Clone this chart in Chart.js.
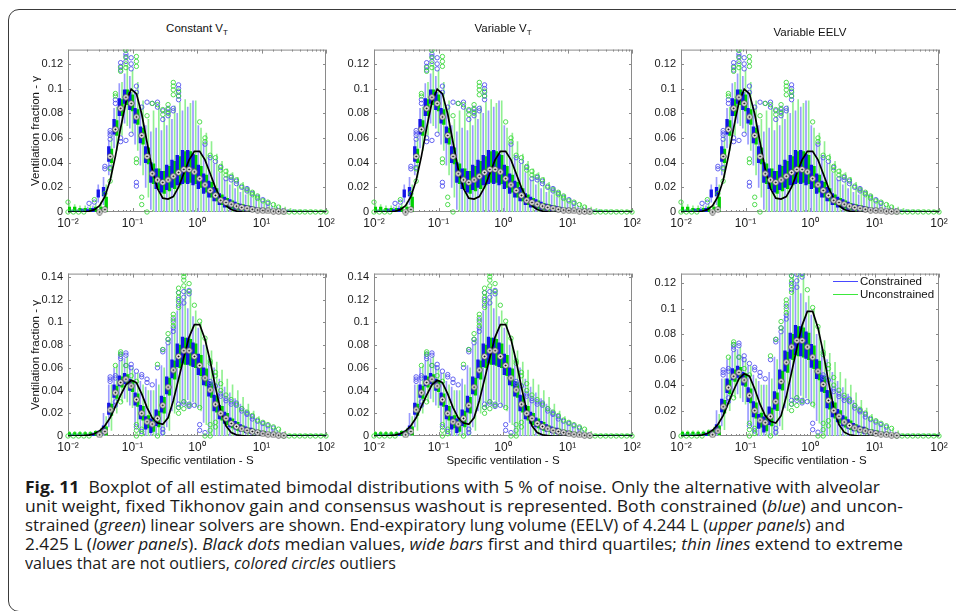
<!DOCTYPE html>
<html>
<head>
<meta charset="utf-8">
<script src="https://cdn.jsdelivr.net/npm/chart.js"></script>
<style>
  body { margin: 0; background: #fff; width: 956px; height: 611px; overflow: hidden; position: relative;
         font-family: "Liberation Sans", Arial, Helvetica, sans-serif; color: #111; }
  .frame { position: absolute; left: 8px; top: 9px; width: 1000px; height: 603px; box-sizing: border-box;
           border: 1.5px solid #3a3a3a; border-radius: 11px; }
  .ptitle { position: absolute; font-size: 11.5px; white-space: nowrap; transform: translateX(-50%); line-height: 13px; }
  .ptitle sub { font-size: 8px; vertical-align: -3px; line-height: 0; }
  .ylab { position: absolute; font-size: 11.5px; white-space: nowrap; transform: translate(-50%, -50%) rotate(-90deg); }
  .xlab { position: absolute; font-size: 11.5px; white-space: nowrap; transform: translate(-50%, -50%); }
  .legend { position: absolute; left: 833px; top: 275px; font-size: 11.5px; line-height: 13px; }
  .legend div { white-space: nowrap; }
  .legend span { display: inline-block; width: 25px; height: 1px; vertical-align: middle; margin-right: 2px; }
  .caption { position: absolute; left: 25px; top: 478px; font-family: "Open Sans", sans-serif; font-size: 15.5px;
             line-height: 19px; color: #1a1a1a; }
  .caption div { white-space: nowrap; transform-origin: 0 0; width: max-content; }
</style>
</head>
<body>
<div class="frame"></div>
<div id="plots"></div>

<div class="ptitle" style="left:197px; top:22px">Constant V<sub>T</sub></div>
<div class="ptitle" style="left:503px; top:22px">Variable V<sub>T</sub></div>
<div class="ptitle" style="left:810px; top:26px">Variable EELV</div>
<div class="ylab" style="left:35px; top:131px">Ventilation fraction - γ</div>
<div class="ylab" style="left:35px; top:355px">Ventilation fraction - γ</div>
<div class="xlab" style="left:197px; top:460px">Specific ventilation - S</div>
<div class="xlab" style="left:503px; top:460px">Specific ventilation - S</div>
<div class="xlab" style="left:810px; top:460px">Specific ventilation - S</div>

<div class="legend">
  <div><span style="background:#4848ff"></span>Constrained</div>
  <div><span style="background:#3ce83c"></span>Unconstrained</div>
</div>

<div class="caption" id="caption">
  <div data-end="880"><b>Fig. 11</b>&nbsp; Boxplot of all estimated bimodal distributions with 5 % of noise. Only the alternative with alveolar</div>
  <div data-end="903">unit weight, fixed Tikhonov gain and consensus washout is represented. Both constrained (<i>blue</i>) and uncon-</div>
  <div data-end="845">strained (<i>green</i>) linear solvers are shown. End-expiratory lung volume (EELV) of 4.244 L (<i>upper panels</i>) and</div>
  <div data-end="903">2.425 L (<i>lower panels</i>). <i>Black dots</i> median values, <i>wide bars</i> first and third quartiles; <i>thin lines</i> extend to extreme</div>
  <div data-end="396">values that are not outliers, <i>colored circles</i> outliers</div>
</div>

<script>
// specific ventilation grid (50 log-spaced compartments)
const S = [0.0100, 0.0121, 0.0146, 0.0176, 0.0212, 0.0256, 0.0309, 0.0373, 0.0450, 0.0543,
           0.0655, 0.0791, 0.0954, 0.115, 0.139, 0.168, 0.202, 0.244, 0.295, 0.356,
           0.429, 0.518, 0.625, 0.754, 0.910, 1.10, 1.33, 1.60, 1.93, 2.33,
           2.81, 3.39, 4.09, 4.94, 5.96, 7.20, 8.69, 10.5, 12.6, 15.3,
           18.4, 22.2, 26.8, 32.4, 39.1, 47.1, 56.9, 68.7, 82.9, 100];

const xTickValues = [0.01, 0.1, 1, 10, 100];
const xTickLabels = ['10⁻²', '10⁻¹', '10⁰', '10¹', '10²'];

// ---- upper panels (EELV 4.244 L) ----
const upCurve = [0, 0, 0, 0.0002, 0.0006, 0.0019, 0.0052, 0.0124, 0.0255, 0.0451,
                 0.0682, 0.0889, 0.0995, 0.0959, 0.0794, 0.0565, 0.0348, 0.0190, 0.0112, 0.0105,
                 0.0125, 0.0201, 0.0313, 0.0422, 0.0491, 0.0491, 0.0422, 0.0312, 0.0198, 0.0108,
                 0.0051, 0.0020, 0.0007, 0.0002, 0, 0, 0, 0, 0, 0,
                 0, 0, 0, 0, 0, 0, 0, 0, 0, 0];
const upMed = [null, null, null, null, null, null, 0, 0.002, 0.045, 0.067,
               0.084, 0.093, 0.088, 0.077, 0.062, 0.045, 0.031, 0.026, 0.024, 0.026,
               0.029, 0.032, 0.0345, 0.0345, 0.0325, 0.027, 0.022, 0.0175, 0.0135, 0.0095,
               0.0077, 0.0063, 0.0048, 0.0037, 0.003, 0.0022, 0.0016, 0.0012, 0.0009, 0.0007,
               0.0005, 0.0003, null, null, null, null, null, null, null, null];
const upQ1G = [0, 0, 0, 0, 0, 0, 0, 0, 0.040, 0.062,
               0.078, 0.087, 0.082, 0.071, 0.055, 0.039, 0.023, 0.018, 0.015, 0.017,
               0.019, 0.022, 0.024, 0.024, 0.023, 0.020, 0.016, 0.012, 0.009, 0.006,
               0.004, 0.003, 0.002, 0.0015, 0.001, 0.0008, 0.0005, 0.0003, 0.0002, 0.0001,
               0, 0, 0, 0, 0, 0, 0, 0, 0, 0];
const upQ3G = [0.004, 0.004, 0.003, 0.003, 0.003, 0.004, 0.004, 0.012, 0.051, 0.074,
               0.091, 0.099, 0.095, 0.083, 0.068, 0.052, 0.039, 0.035, 0.033, 0.037,
               0.041, 0.045, 0.049, 0.049, 0.046, 0.037, 0.030, 0.024, 0.019, 0.014,
               0.011, 0.009, 0.007, 0.006, 0.005, 0.004, 0.0032, 0.0026, 0.0021, 0.0018,
               0.0015, 0.0012, 0.001, 0.001, 0.0009, 0.0008, 0.0008, 0.0007, 0.0007, 0.0006];
const upQ1B = [0, 0, 0, 0, 0, 0, 0.012, 0.013, 0.041, 0.063,
               0.078, 0.088, 0.083, 0.072, 0.056, 0.040, 0.024, 0.019, 0.016, 0.018,
               0.020, 0.022, 0.023, 0.023, 0.022, 0.019, 0.015, 0.012, 0.009, 0.006,
               0.004, 0.003, 0.002, 0.0015, 0.001, 0.0008, 0.0005, 0.0003, 0.0002, 0.0001,
               0, 0, 0, 0, 0, 0, 0, 0, 0, 0];
const upQ3B = [0.001, 0.001, 0.001, 0.002, 0.002, 0.003, 0.018, 0.020, 0.053, 0.075,
               0.092, 0.099, 0.097, 0.084, 0.069, 0.053, 0.040, 0.035, 0.033, 0.038,
               0.042, 0.046, 0.050, 0.050, 0.047, 0.038, 0.031, 0.025, 0.020, 0.015,
               0.012, 0.010, 0.008, 0.0065, 0.0055, 0.0045, 0.0035, 0.0028, 0.0022, 0.0018,
               0.0015, 0.0012, 0.001, 0.0008, 0.0006, 0.0005, 0.0004, 0.0003, 0.0002, 0.0002];
const upLoG = [0, 0, 0, 0, 0, 0, 0, 0, 0.028, 0.050,
               0.062, 0.070, 0.064, 0.050, 0.030, 0.012, 0, 0, 0, 0,
               0, 0, 0, 0, 0, 0, 0, 0, 0, 0,
               0, 0, 0, 0, 0, 0, 0, 0, 0, 0,
               0, 0, 0, 0, 0, 0, 0, 0, 0, 0];
const upHiG = [0.006, 0.006, 0.005, 0.005, 0.005, 0.007, 0.008, 0.022, 0.062, 0.085,
               0.105, 0.118, 0.115, 0.105, 0.090, 0.075, 0.082, 0.085, 0.077, 0.082,
               0.086, 0.089, 0.091, 0.088, 0.090, 0.068, 0.064, 0.057, 0.047, 0.041,
               0.035, 0.032, 0.028, 0.024, 0.020, 0.017, 0.014, 0.011, 0.009, 0.007,
               0.005, 0.004, 0.003, 0.002, 0.002, 0.002, 0.002, 0.0015, 0.0015, 0.0015];
const upLoB = [0, 0, 0, 0, 0, 0, 0.008, 0.006, 0.030, 0.052,
               0.064, 0.072, 0.068, 0.055, 0.038, 0.020, 0.002, 0, 0, 0,
               0, 0, 0, 0, 0, 0, 0, 0, 0, 0,
               0, 0, 0, 0, 0, 0, 0, 0, 0, 0,
               0, 0, 0, 0, 0, 0, 0, 0, 0, 0];
const upHiB = [0.002, 0.002, 0.002, 0.003, 0.004, 0.005, 0.022, 0.028, 0.058, 0.084,
               0.104, 0.112, 0.110, 0.098, 0.085, 0.070, 0.065, 0.068, 0.066, 0.070,
               0.075, 0.080, 0.082, 0.085, 0.090, 0.070, 0.055, 0.046, 0.039, 0.032,
               0.026, 0.022, 0.019, 0.016, 0.014, 0.012, 0.010, 0.008, 0.006, 0.005,
               0.004, 0.003, 0.002, 0.002, 0.0015, 0.0015, 0.001, 0.001, 0.001, 0.001];
// outliers as [compartment index, value]
const upOutB = [[4, 0.007], [5, 0.008], [7, 0.037], [7, 0.035], [8, 0.066], [8, 0.064], [8, 0.062], [8, 0.059], [8, 0.036],
                [9, 0.091], [9, 0.088], [10, 0.121], [10, 0.118], [10, 0.115], [10, 0.060], [10, 0.057],
                [11, 0.128], [11, 0.126], [11, 0.122], [11, 0.058], [12, 0.125], [12, 0.120], [12, 0.116], [12, 0.063],
                [13, 0.102], [13, 0.097], [13, 0.024], [13, 0.021], [14, 0.085], [15, 0.089], [16, 0.088],
                [17, 0.089], [17, 0.085], [18, 0.082], [18, 0.075], [19, 0.084], [19, 0.081], [19, 0.078],
                [20, 0.084], [20, 0.082], [21, 0.103], [21, 0.100], [21, 0.097], [21, 0.094], [21, 0.091],
                [26, 0.055], [27, 0.044], [28, 0.041], [29, 0.036], [30, 0.027], [31, 0.028], [31, 0.026],
                [32, 0.025], [32, 0.023], [33, 0.020], [34, 0.019], [34, 0.017], [35, 0.015], [36, 0.012],
                [37, 0.010], [38, 0.007]];
const upOutG = [[0, 0.008], [0, 0], [1, 0], [2, 0], [3, 0], [5, 0.010], [7, 0.015], [8, 0.035], [8, 0.025],
                [9, 0.096], [9, 0.094], [10, 0.117], [10, 0.114], [11, 0.131], [11, 0.125], [11, 0.120], [11, 0.117],
                [13, 0.126], [13, 0.122], [13, 0.118], [13, 0.043], [13, 0.040], [14, 0.012], [14, 0.006],
                [15, 0.078], [15, 0], [16, 0.088], [17, 0.087], [18, 0.083], [18, 0.079],
                [19, 0.087], [19, 0.083], [19, 0.080], [20, 0.105], [20, 0.102], [20, 0.099], [20, 0.095],
                [21, 0.098], [21, 0.094], [25, 0.073], [26, 0.060], [26, 0.057], [27, 0.046], [28, 0.044],
                [29, 0.037], [29, 0.034], [30, 0.033], [30, 0.030], [31, 0.029], [32, 0.026], [33, 0.021],
                [34, 0.018], [35, 0.016], [35, 0.014], [36, 0.013], [36, 0.011], [37, 0.009], [38, 0.008],
                [39, 0.006], [40, 0.004], [41, 0], [42, 0], [43, 0], [44, 0], [45, 0], [46, 0], [47, 0], [48, 0], [49, 0]];

// ---- lower panels (EELV 2.425 L) ----
const loCurve = [0, 0, 0.0001, 0.0003, 0.0008, 0.002, 0.0045, 0.009, 0.016, 0.026,
                 0.036, 0.045, 0.049, 0.047, 0.037, 0.025, 0.016, 0.0115, 0.0102, 0.016,
                 0.031, 0.050, 0.069, 0.087, 0.098, 0.098, 0.085, 0.066, 0.043, 0.022,
                 0.009, 0.003, 0.001, 0.0003, 0, 0, 0, 0, 0, 0,
                 0, 0, 0, 0, 0, 0, 0, 0, 0, 0];
const loMed = [null, null, null, null, null, null, 0.001, 0.004, 0.023, 0.038,
               0.047, 0.050, 0.044, 0.032, 0.020, 0.0125, 0.0105, 0.0155, 0.027, 0.043,
               0.058, 0.070, 0.075, 0.075, 0.070, 0.062, 0.051, 0.0405, 0.028, 0.020,
               0.0155, 0.011, 0.0083, 0.0063, 0.005, 0.004, 0.003, 0.002, 0.0015, 0.001,
               0.0007, 0.0004, null, null, null, null, null, null, null, null];
const loQ1G = [0, 0, 0, 0, 0, 0, 0, 0.001, 0.018, 0.033,
               0.043, 0.046, 0.039, 0.026, 0.014, 0.007, 0.004, 0.008, 0.020, 0.036,
               0.050, 0.060, 0.063, 0.062, 0.060, 0.053, 0.044, 0.034, 0.021, 0.014,
               0.010, 0.007, 0.005, 0.004, 0.003, 0.002, 0.0015, 0.001, 0.0008, 0.0005,
               0.0003, 0, 0, 0, 0, 0, 0, 0, 0, 0];
const loQ3G = [0.003, 0.003, 0.003, 0.003, 0.003, 0.004, 0.005, 0.008, 0.028, 0.044,
               0.052, 0.054, 0.049, 0.037, 0.026, 0.018, 0.016, 0.022, 0.034, 0.051,
               0.066, 0.080, 0.086, 0.085, 0.081, 0.071, 0.059, 0.047, 0.035, 0.026,
               0.020, 0.015, 0.012, 0.009, 0.007, 0.006, 0.005, 0.004, 0.003, 0.0025,
               0.002, 0.0015, 0.001, 0.001, 0.001, 0.001, 0.001, 0.001, 0.001, 0.001];
const loQ1B = [0, 0, 0, 0, 0, 0, 0, 0.002, 0.019, 0.034,
               0.044, 0.046, 0.040, 0.027, 0.015, 0.006, 0.003, 0.009, 0.021, 0.037,
               0.051, 0.061, 0.064, 0.063, 0.061, 0.054, 0.045, 0.035, 0.022, 0.015,
               0.011, 0.008, 0.006, 0.004, 0.003, 0.002, 0.0015, 0.001, 0.0008, 0.0005,
               0.0003, 0, 0, 0, 0, 0, 0, 0, 0, 0];
const loQ3B = [0.001, 0.001, 0.001, 0.001, 0.001, 0.002, 0.003, 0.009, 0.029, 0.045,
               0.053, 0.055, 0.050, 0.038, 0.027, 0.017, 0.015, 0.023, 0.035, 0.052,
               0.067, 0.081, 0.087, 0.086, 0.082, 0.072, 0.060, 0.048, 0.036, 0.027,
               0.021, 0.016, 0.013, 0.010, 0.008, 0.007, 0.005, 0.004, 0.003, 0.0025,
               0.002, 0.0012, 0.0006, 0.0006, 0.0006, 0.0006, 0.0006, 0.0006, 0.0006, 0.0006];
const loLoG = [0, 0, 0, 0, 0, 0, 0, 0, 0.005, 0.020,
               0.030, 0.030, 0.025, 0.008, 0, 0, 0, 0, 0, 0.005,
               0.020, 0.025, 0.028, 0.028, 0.026, 0.022, 0.010, 0, 0, 0,
               0, 0, 0, 0, 0, 0, 0, 0, 0, 0,
               0, 0, 0, 0, 0, 0, 0, 0, 0, 0];
const loHiG = [0.004, 0.004, 0.004, 0.004, 0.004, 0.005, 0.007, 0.017, 0.045, 0.062,
               0.068, 0.070, 0.060, 0.055, 0.045, 0.040, 0.040, 0.045, 0.060, 0.085,
               0.098, 0.125, 0.130, 0.125, 0.110, 0.100, 0.085, 0.075, 0.065, 0.058,
               0.050, 0.045, 0.040, 0.034, 0.028, 0.022, 0.017, 0.013, 0.010, 0.008,
               0.006, 0.004, 0.002, 0.002, 0.002, 0.002, 0.002, 0.002, 0.002, 0.002];
const loLoB = [0, 0, 0, 0, 0, 0, 0, 0, 0.008, 0.022,
               0.032, 0.033, 0.027, 0.010, 0.002, 0, 0, 0, 0, 0.008,
               0.022, 0.030, 0.032, 0.032, 0.030, 0.025, 0.012, 0.002, 0, 0,
               0, 0, 0, 0, 0, 0, 0, 0, 0, 0,
               0, 0, 0, 0, 0, 0, 0, 0, 0, 0];
const loHiB = [0.002, 0.002, 0.002, 0.002, 0.002, 0.003, 0.005, 0.020, 0.045, 0.060,
               0.066, 0.068, 0.062, 0.055, 0.048, 0.043, 0.040, 0.050, 0.062, 0.080,
               0.095, 0.110, 0.120, 0.112, 0.105, 0.095, 0.080, 0.070, 0.060, 0.050,
               0.043, 0.038, 0.033, 0.028, 0.023, 0.019, 0.015, 0.012, 0.009, 0.007,
               0.005, 0.003, 0.0015, 0.0015, 0.0015, 0.0015, 0.0015, 0.0015, 0.0015, 0.0015];
const loOutB = [[8, 0.052], [8, 0.050], [8, 0.048], [9, 0.053], [9, 0.051], [9, 0.030], [9, 0.027],
                [10, 0.072], [10, 0.070], [10, 0.068], [11, 0.073], [11, 0.071], [11, 0.062], [12, 0.063], [12, 0.060],
                [13, 0.057], [13, 0.008], [14, 0.054], [14, 0.052], [14, 0.004], [15, 0.050], [15, 0.047], [16, 0.045],
                [17, 0.060], [18, 0.076], [18, 0.074], [18, 0.006], [18, 0.003], [19, 0.085], [19, 0.082],
                [20, 0.102], [20, 0.095], [20, 0.092], [21, 0.126], [21, 0.120], [21, 0.115], [21, 0.028], [21, 0.025],
                [22, 0.127], [22, 0.122], [22, 0.117], [22, 0.030], [22, 0.028], [23, 0.128], [23, 0.125], [23, 0.028],
                [23, 0.026], [24, 0.027], [25, 0.010], [25, 0.005], [26, 0.003], [27, 0.048], [27, 0.046], [28, 0.044],
                [29, 0.037], [29, 0.035], [30, 0.033], [30, 0.031], [31, 0.030], [31, 0.028], [32, 0.029], [32, 0.027],
                [33, 0.024], [33, 0.022], [34, 0.020], [34, 0.019], [35, 0.017], [35, 0.015], [36, 0.013], [37, 0.011],
                [38, 0.009], [39, 0.007]];
const loOutG = [[0, 0], [1, 0], [2, 0], [3, 0], [4, 0], [9, 0.062], [10, 0.074], [10, 0.072], [10, 0.030],
                [11, 0.062], [12, 0.053], [13, 0.048], [13, 0.010], [13, 0.005], [13, 0], [14, 0.006], [14, 0.002],
                [17, 0.063], [17, 0], [18, 0.076], [19, 0.090], [19, 0.085], [20, 0.107], [20, 0.104], [20, 0.100], [20, 0.097],
                [21, 0.130], [21, 0.126], [21, 0.122], [21, 0.118], [21, 0.113], [21, 0.025], [21, 0.020],
                [22, 0.143], [22, 0.140], [22, 0.137], [22, 0.132], [22, 0.030], [22, 0.024], [23, 0.134], [23, 0.127],
                [23, 0.027], [24, 0.115], [25, 0.101], [25, 0.025], [26, 0.086], [26, 0], [27, 0.066], [27, 0.064],
                [27, 0.010], [27, 0.005], [27, 0], [28, 0.056], [28, 0.053], [28, 0.012], [28, 0.008], [29, 0.046],
                [29, 0.040], [30, 0.036], [31, 0.032], [32, 0.028], [33, 0.024], [34, 0.021], [35, 0.018], [36, 0.014],
                [37, 0.012], [38, 0.010], [39, 0.008], [40, 0.006], [41, 0], [42, 0], [43, 0], [44, 0], [45, 0],
                [46, 0], [47, 0], [48, 0], [49, 0]];

const UP = {curve: upCurve, med: upMed, q1B: upQ1B, q3B: upQ3B, q1G: upQ1G, q3G: upQ3G,
            loB: upLoB, hiB: upHiB, loG: upLoG, hiG: upHiG, outB: upOutB, outG: upOutG};
const LO = {curve: loCurve, med: loMed, q1B: loQ1B, q3B: loQ3B, q1G: loQ1G, q3G: loQ3G,
            loB: loLoB, hiB: loHiB, loG: loLoG, hiG: loHiG, outB: loOutB, outG: loOutG};

Chart.defaults.font.family = '"Liberation Sans", Arial, Helvetica, sans-serif';
Chart.defaults.color = '#222';

// median marker: white circle with black dot
const medMark = document.createElement('canvas');
medMark.width = 7; medMark.height = 7;
(function () {
  const m = medMark.getContext('2d');
  m.beginPath(); m.arc(3.5, 3.5, 2.8, 0, Math.PI * 2);
  m.fillStyle = '#fff'; m.fill();
  m.lineWidth = 0.9; m.strokeStyle = '#505050'; m.stroke();
  m.beginPath(); m.arc(3.5, 3.5, 1.05, 0, Math.PI * 2);
  m.fillStyle = '#000'; m.fill();
})();

// matlab-like box with inward ticks
const axesBox = {
  id: 'axesBox',
  beforeDatasetsDraw(chart) {
    const {ctx, chartArea: a, scales: {x, y}} = chart;
    ctx.save();
    ctx.strokeStyle = '#8a8a8a';
    ctx.lineWidth = 1;
    ctx.strokeRect(a.left + 0.5, a.top + 0.5, a.right - a.left - 1, a.bottom - a.top - 1);
    ctx.beginPath();
    y.ticks.forEach(t => {
      const py = Math.round(y.getPixelForValue(t.value)) + 0.5;
      ctx.moveTo(a.left, py); ctx.lineTo(a.left + 3, py);
      ctx.moveTo(a.right, py); ctx.lineTo(a.right - 3, py);
    });
    x.ticks.forEach(t => {
      const px = Math.round(x.getPixelForValue(t.value)) + 0.5;
      const e = Math.log10(t.value);
      const len = Math.abs(e - Math.round(e)) < 1e-6 ? 4 : 2;
      ctx.moveTo(px, a.bottom); ctx.lineTo(px, a.bottom - len);
      ctx.moveTo(px, a.top); ctx.lineTo(px, a.top + len);
    });
    ctx.stroke();
    ctx.restore();
  }
};

const PT_CLIP = {left: 5, right: 5, top: 0, bottom: 5};
const pts = vals => S.map((s, i) => ({x: s, y: vals[i]}));
const span = (lo, hi) => S.map((s, i) => ({x: s, y: [lo[i], hi[i]]}));
const outPts = list => list.map(([i, v]) => ({x: S[i], y: v}));

function xLabel(v) {
  const k = xTickValues.findIndex(t => Math.abs(v - t) < t * 1e-6);
  return k >= 0 ? xTickLabels[k] : '';
}

function makePanel(left, top, right, bottom, yMax, r) {
  const padL = 44, padT = 8, padR = 16, padB = 22;
  const w = right - left + padL + padR, h = bottom - top + padT + padB;
  const canvas = document.createElement('canvas');
  canvas.width = w; canvas.height = h;
  canvas.style.cssText = `position:absolute;left:${left - padL}px;top:${top - padT}px;width:${w}px;height:${h}px`;
  document.getElementById('plots').appendChild(canvas);

  new Chart(canvas.getContext('2d'), {
    type: 'bar',
    data: {
      datasets: [
        {type: 'scatter', data: pts(r.med), pointStyle: medMark, pointRadius: 3, order: 0, clip: PT_CLIP},
        {type: 'line', data: pts(r.curve), borderColor: '#000', borderWidth: 1.7, pointRadius: 0, tension: 0, order: 1},
        {type: 'scatter', data: outPts(r.outG), pointStyle: 'circle', pointRadius: 2.2, borderWidth: 0.9,
         borderColor: '#3ed83e', backgroundColor: 'rgba(0,0,0,0)', order: 2, clip: PT_CLIP},
        {type: 'scatter', data: outPts(r.outB), pointStyle: 'circle', pointRadius: 2.2, borderWidth: 0.9,
         borderColor: '#5454ee', backgroundColor: 'rgba(0,0,0,0)', order: 3, clip: PT_CLIP},
        {data: span(r.q1B, r.q3B), backgroundColor: '#1414e8', stack: 'b', barThickness: 2.7, order: 4},
        {data: span(r.q1G, r.q3G), backgroundColor: '#00d200', stack: 'g', barThickness: 2.7, order: 5},
        {data: span(r.loB, r.hiB), backgroundColor: '#9a9aff', stack: 'b', barThickness: 2.7, maxBarThickness: 1, order: 6},
        {data: span(r.loG, r.hiG), backgroundColor: '#90f090', stack: 'g', barThickness: 2.7, maxBarThickness: 1, order: 7}
      ]
    },
    options: {
      responsive: false,
      animation: false,
      events: [],
      layout: {padding: {top: padT, right: padR, left: 0, bottom: 0}},
      plugins: {legend: {display: false}, tooltip: {enabled: false}},
      scales: {
        x: {
          type: 'logarithmic', min: 0.01, max: 100, offset: false,
          grid: {display: false, drawTicks: false, offset: false}, border: {display: false},
          ticks: {autoSkip: false, maxRotation: 0, padding: 4, color: '#1a1a1a', font: {size: 12}, callback: xLabel},
          afterFit: s => { s.height = padB; }
        },
        y: {
          min: 0, max: yMax, stacked: false,
          grid: {display: false, drawTicks: false}, border: {display: false},
          ticks: {stepSize: 0.02, includeBounds: false, padding: 5, color: '#1a1a1a', font: {size: 11},
                  callback: v => v === 0 ? '0' : String(+v.toFixed(2))},
          afterFit: s => { s.width = padL; }
        }
      }
    },
    plugins: [axesBox]
  });
}

makePanel(68, 46, 326, 212, 0.1316, UP);
makePanel(374, 46, 632, 212, 0.1316, UP);
makePanel(681, 46, 939, 212, 0.1316, UP);
makePanel(68, 270, 326, 436, 0.1428, LO);
makePanel(374, 270, 632, 436, 0.1428, LO);
makePanel(681, 270, 939, 436, 0.1277, LO);

// fit caption lines to the original line widths
function fitCaption() {
  document.querySelectorAll('#caption div').forEach(el => {
    const target = +el.dataset.end - 25;
    el.style.transform = 'none';
    const w = el.getBoundingClientRect().width;
    el.style.transform = `scaleX(${target / w})`;
  });
}
fitCaption();
if (document.fonts && document.fonts.ready) document.fonts.ready.then(fitCaption);
</script>
</body>
</html>
